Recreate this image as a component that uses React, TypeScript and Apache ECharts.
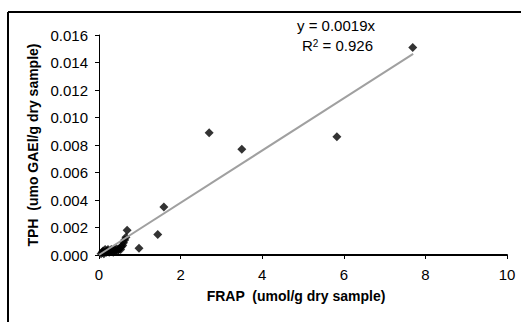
import React, { useEffect, useRef } from "react";
import * as echarts from "echarts";

const pointsX = [0.05, 0.08, 0.1, 0.12, 0.15, 0.18, 0.2, 0.22, 0.25, 0.28, 0.3, 0.33, 0.35, 0.38, 0.4, 0.42, 0.45, 0.48, 0.5, 0.53, 0.55, 0.58, 0.6, 0.63, 0.66, 0.69, 0.98, 1.44, 1.59, 2.7, 3.5, 5.83, 7.69];
const pointsY = [0.0001, 0.0002, 0.0003, 0.0001, 0.0004, 0.0002, 0.0003, 0.0004, 0.0002, 0.0003, 0.0004, 0.0003, 0.0002, 0.0004, 0.0003, 0.0005, 0.0003, 0.0004, 0.0005, 0.0004, 0.0006, 0.0007, 0.0009, 0.0011, 0.0013, 0.0018, 0.0005, 0.0015, 0.0035, 0.0089, 0.0077, 0.0086, 0.0151];
const trendX = [0, 7.7];
const trendY = [0, 0.01463];
const xTicks = ["0", "2", "4", "6", "8", "10"];
const yTicks = ["0.000", "0.002", "0.004", "0.006", "0.008", "0.010", "0.012", "0.014", "0.016"];
const equationText = "y = 0.0019x";
const r2Text = "0.926";

export default function App() {
  const ref = useRef<HTMLDivElement>(null);
  useEffect(() => {
    if (!ref.current) return;
    const chart = echarts.init(ref.current, null, { renderer: "svg" });
    const font = "'Liberation Sans', Arial, sans-serif";
    chart.setOption({
      animation: false,
      backgroundColor: "#ffffff",
      grid: { left: 99, right: 14, top: 35, bottom: 67 },
      xAxis: {
        type: "value",
        min: 0,
        max: 10,
        interval: 2,
        name: "FRAP  (umol/g dry sample)",
        nameLocation: "middle",
        nameGap: 34,
        nameTextStyle: { fontFamily: font, fontSize: 14, fontWeight: "bold", color: "#000", padding: [0, 14, 0, 0] },
        axisLine: { lineStyle: { color: "#000", width: 2 } },
        axisTick: { show: true, length: 4, lineStyle: { color: "#000" } },
        axisLabel: {
          fontFamily: font,
          fontSize: 15,
          color: "#000",
          margin: 12,
          formatter: (v: number) => xTicks[Math.round(v / 2)] ?? "",
        },
        splitLine: { show: false },
      },
      yAxis: {
        type: "value",
        min: 0,
        max: 0.016,
        interval: 0.002,
        name: "TPH  (umo GAEl/g dry sample)",
        nameLocation: "middle",
        nameGap: 58,
        nameTextStyle: { fontFamily: font, fontSize: 14, fontWeight: "bold", color: "#000" },
        axisLine: { show: true, lineStyle: { color: "#000", width: 1 } },
        axisTick: { show: true, length: 4, lineStyle: { color: "#000" } },
        axisLabel: {
          fontFamily: font,
          fontSize: 15,
          color: "#000",
          margin: 11,
          formatter: (v: number) => yTicks[Math.round(v / 0.002)] ?? "",
        },
        splitLine: { show: false },
      },
      series: [
        {
          type: "scatter",
          symbol: "diamond",
          symbolSize: 9,
          itemStyle: { color: "#000" },
          data: pointsX.map((x, i) => [x, pointsY[i]]),
          z: 2,
        },
        {
          type: "line",
          symbol: "none",
          lineStyle: { color: "#a0a0a0", width: 2 },
          data: trendX.map((x, i) => [x, trendY[i]]),
          z: 3,
        },
      ],
      graphic: [
        { type: "line", shape: { x1: 8, y1: 12, x2: 521, y2: 12 }, style: { stroke: "#000", lineWidth: 2 } },
        { type: "line", shape: { x1: 8, y1: 12, x2: 8, y2: 322 }, style: { stroke: "#000", lineWidth: 2 } },
        {
          type: "text",
          left: 297,
          top: 18,
          style: { text: equationText, font: `15px ${font}`, fill: "#000" },
        },
        {
          type: "text",
          left: 302,
          top: 38,
          style: {
            text: `{a|R}{s|2}{a| = ${r2Text}}`,
            rich: {
              a: { fontFamily: font, fontSize: 15, fill: "#000", verticalAlign: "bottom" },
              s: { fontFamily: font, fontSize: 10, fill: "#000", verticalAlign: "top" },
            },
          },
        },
      ],
    });
    return () => chart.dispose();
  }, []);
  return <div ref={ref} style={{ position: "fixed", left: 0, top: 0, width: 521, height: 322 }} />;
}
